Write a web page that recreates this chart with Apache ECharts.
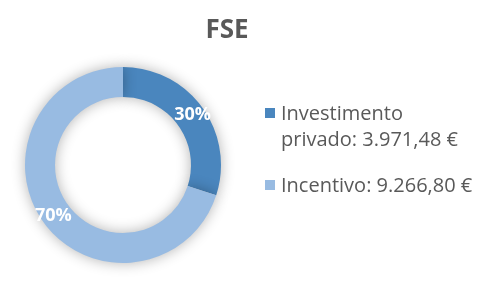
<!DOCTYPE html>
<html><head><meta charset="utf-8">
<script src="https://cdn.jsdelivr.net/npm/echarts@6/dist/echarts.min.js"></script>
<style>html,body{margin:0;padding:0;background:#fff}#c{width:500px;height:291px}</style>
</head><body><div id="c"></div>
<script>
var title = 'FSE';
var categories = ['Investimento privado', 'Incentivo'];
var values = [3971.48, 9266.80];
var valueLabels = ['3.971,48 €', '9.266,80 €'];
var legendLines = [['Investimento', 'privado: ' + valueLabels[0]], ['Incentivo: ' + valueLabels[1]]];
var colors = ['#4a86be', '#98bbe2'];

var chart = echarts.init(document.getElementById('c'));
var txt = '#595959';
var font = '"Open Sans", "Noto Sans", sans-serif';
var graphics = [];
var legendTop = [113, 185];
legendLines.forEach(function (lines, i) {
  graphics.push({type: 'rect', left: 265, top: legendTop[i] - 5, shape: {width: 10, height: 10}, style: {fill: colors[i]}});
  graphics.push({type: 'text', left: 281, top: legendTop[i] - 12,
    style: {text: lines.join('\n'), font: '20px ' + font, fill: txt, lineHeight: 26}});
});
chart.setOption({
  backgroundColor: '#fff',
  title: {text: title, left: 222, textAlign: 'center', top: 13,
    textStyle: {fontFamily: font, fontSize: 26, fontWeight: 'bold', color: txt}},
  graphic: graphics,
  series: [{
    type: 'pie', center: [123, 165], radius: [68, 98], startAngle: 90, clockwise: true,
    animation: false, silent: true,
    itemStyle: {shadowBlur: 14, shadowColor: 'rgba(0,0,0,0.3)'},
    label: {show: true, position: 'inside', formatter: function (p) { return Math.round(p.percent) + '%'; },
      color: '#fff', fontFamily: font, fontSize: 18, fontWeight: 'bold'},
    labelLine: {show: false},
    data: categories.map(function (c, i) { return {name: c, value: values[i], itemStyle: {color: colors[i]}}; })
  }]
});
</script></body></html>
